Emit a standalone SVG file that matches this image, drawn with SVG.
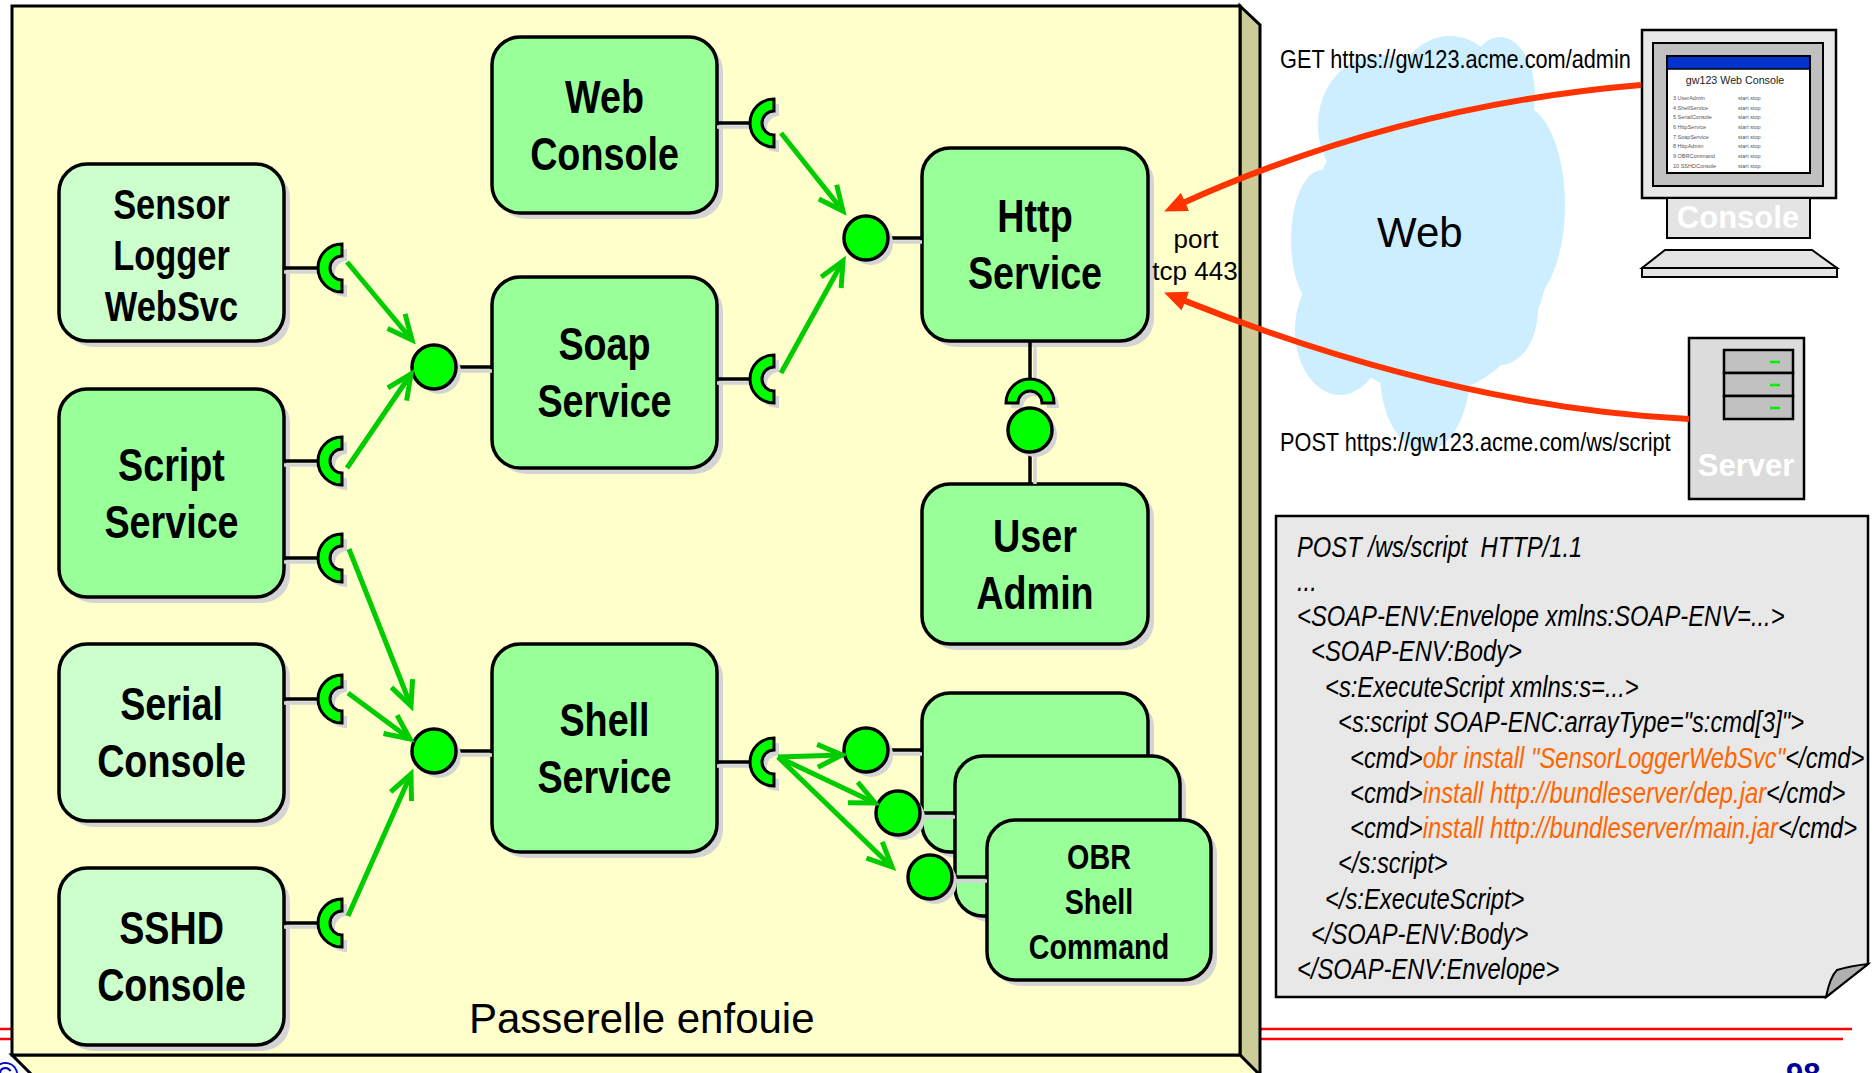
<svg xmlns="http://www.w3.org/2000/svg" width="1875" height="1073" viewBox="0 0 1875 1073">
<style>
.box{stroke:#000;stroke-width:3.5}
.dk{fill:#99ff99}
.lt{fill:#ccffcc}
.sh{fill:#d4d4d4}
.reg{font-family:"Liberation Sans",Arial,sans-serif}
.nar{font-family:"Liberation Sans",Arial,sans-serif}
.lbl{font-family:"Liberation Sans",Arial,sans-serif;font-weight:bold;font-size:46px;text-anchor:middle;fill:#000}
.lbl.s{font-size:42px}
.lbl.xs{font-size:35px}
.stub{stroke:#000;stroke-width:3.5}
.stubsh{stroke:#d4d4d4;stroke-width:3.5}
.sock{fill:#00ff00;stroke:#000;stroke-width:3}
.ball{fill:#00ff00;stroke:#000;stroke-width:3.5}
.arr{stroke:#00cc00;stroke-width:5;fill:none;marker-end:url(#ga)}
.red{stroke:#ff3300;stroke-width:6;fill:none;marker-end:url(#ra)}
.code{font-family:"Liberation Sans",Arial,sans-serif;font-style:italic;font-size:29px;fill:#000}
.or{fill:#ff6600}
.li{font-family:"Liberation Sans",Arial,sans-serif;font-size:5.5px;fill:#555}
.wt{font-family:"Liberation Sans",Arial,sans-serif;font-weight:bold;font-size:31px;fill:#fff;text-anchor:middle}
</style>
<defs>
  <!-- required-interface socket: half ring opening to the right, flat side at x=0 -->
  <path id="sk" d="M0,-24 A24,24 0 0 0 0,24 L0,12 A12,12 0 0 1 0,-12 Z"/>
  <marker id="ga" markerUnits="userSpaceOnUse" viewBox="0 0 40 40" markerWidth="40" markerHeight="40" refX="30" refY="20" orient="auto">
    <path d="M5.5,8.6 L30,20 L5.5,31.4" fill="none" stroke="#00cc00" stroke-width="5"/>
  </marker>
  <marker id="ra" markerUnits="userSpaceOnUse" viewBox="0 0 24 22" markerWidth="24" markerHeight="22" refX="6" refY="11" orient="auto">
    <path d="M0,1 L23,11 L0,21 Z" fill="#ff3300"/>
  </marker>
</defs>

<rect width="1875" height="1073" fill="#fff"/>

<!-- slide template rules -->
<line x1="0" y1="1029" x2="1852" y2="1029" stroke="#ff0000" stroke-width="2.5"/>
<line x1="0" y1="1039" x2="1843" y2="1039" stroke="#ff0000" stroke-width="2.5"/>
<text x="-8" y="1088" class="reg" font-size="36" fill="#0000cc">©</text>
<text x="1786" y="1085" class="reg" font-size="31" font-weight="bold" fill="#000099">98</text>

<!-- gateway container (3D panel) -->
<g id="gateway">
  <polygon points="1240,6 1260,25 1260,1080 1240,1055" fill="#cccc99" stroke="#000" stroke-width="3"/>
  <polygon points="12,1055 1240,1055 1260,1075 32,1075" fill="#ffffcc" stroke="#000" stroke-width="3"/>
  <rect x="12" y="6" width="1228" height="1049" fill="#ffffcc" stroke="#000" stroke-width="3"/>
  <text x="469" y="1033" class="reg" font-size="42" fill="#000">Passerelle enfouie</text>
</g>

<!-- Web cloud -->
<g id="web-cloud" fill="#cceeff">
  <ellipse cx="1428" cy="245" rx="122" ry="150"/>
  <ellipse cx="1380" cy="125" rx="62" ry="70"/>
  <ellipse cx="1450" cy="98" rx="55" ry="62"/>
  <ellipse cx="1500" cy="95" rx="35" ry="58"/>
  <ellipse cx="1520" cy="205" rx="45" ry="100"/>
  <ellipse cx="1500" cy="310" rx="38" ry="55"/>
  <ellipse cx="1340" cy="330" rx="45" ry="65"/>
  <ellipse cx="1425" cy="372" rx="45" ry="79"/>
  <ellipse cx="1322" cy="240" rx="31" ry="70"/>
  <text x="1377" y="247" class="reg" font-size="42" fill="#000">Web</text>
</g>

<!-- nodes (labels are drawn horizontally condensed) -->
<g id="web-console">
  <rect class="sh" x="498" y="43" width="225" height="176" rx="28"/>
  <rect class="box dk" x="492" y="37" width="225" height="176" rx="28"/>
  <text class="lbl" transform="translate(604.5,0) scale(0.82,1)"><tspan x="0" y="113">Web</tspan><tspan x="0" y="170">Console</tspan></text>
  <line class="stubsh" x1="717" y1="127" x2="750" y2="127"/>
  <line class="stub" x1="717" y1="123" x2="750" y2="123"/>
  <use href="#sk" x="779" y="128" fill="#d4d4d4"/>
  <use href="#sk" class="sock" x="774" y="123"/>
</g>

<g id="sensor-logger">
  <rect class="sh" x="65" y="170" width="225" height="177" rx="28"/>
  <rect class="box lt" x="59" y="164" width="225" height="177" rx="28"/>
  <text class="lbl s" transform="translate(171.5,0) scale(0.82,1)"><tspan x="0" y="219">Sensor</tspan><tspan x="0" y="270">Logger</tspan><tspan x="0" y="321">WebSvc</tspan></text>
  <line class="stubsh" x1="284" y1="272" x2="318" y2="272"/>
  <line class="stub" x1="284" y1="268" x2="318" y2="268"/>
  <use href="#sk" x="347" y="273" fill="#d4d4d4"/>
  <use href="#sk" class="sock" x="342" y="268"/>
</g>

<g id="soap-service">
  <rect class="sh" x="498" y="283" width="225" height="191" rx="28"/>
  <rect class="box dk" x="492" y="277" width="225" height="191" rx="28"/>
  <text class="lbl" transform="translate(604.5,0) scale(0.82,1)"><tspan x="0" y="360.5">Soap</tspan><tspan x="0" y="417.5">Service</tspan></text>
  <line class="stubsh" x1="456" y1="371" x2="492" y2="371"/>
  <line class="stub" x1="456" y1="367" x2="492" y2="367"/>
  <circle cx="439" cy="372" r="22" fill="#d4d4d4"/>
  <circle class="ball" cx="434" cy="367" r="22"/>
  <line class="stubsh" x1="717" y1="383" x2="750" y2="383"/>
  <line class="stub" x1="717" y1="379" x2="750" y2="379"/>
  <use href="#sk" x="779" y="384" fill="#d4d4d4"/>
  <use href="#sk" class="sock" x="774" y="379"/>
</g>

<g id="http-service">
  <rect class="sh" x="928" y="154" width="226" height="193" rx="28"/>
  <rect class="box dk" x="922" y="148" width="226" height="193" rx="28"/>
  <text class="lbl" transform="translate(1035,0) scale(0.82,1)"><tspan x="0" y="232.5">Http</tspan><tspan x="0" y="289.5">Service</tspan></text>
  <line class="stubsh" x1="888" y1="242" x2="922" y2="242"/>
  <line class="stub" x1="888" y1="238" x2="922" y2="238"/>
  <circle cx="871" cy="243" r="22" fill="#d4d4d4"/>
  <circle class="ball" cx="866" cy="238" r="22"/>
  <line class="stubsh" x1="1035" y1="346" x2="1035" y2="380"/>
  <line class="stub" x1="1030" y1="341" x2="1030" y2="380"/>
  <use href="#sk" transform="translate(1035,408) rotate(90)" fill="#d4d4d4"/>
  <use href="#sk" class="sock" transform="translate(1030,403) rotate(90)"/>
  <text x="1196" y="248" class="reg" font-size="26" text-anchor="middle" fill="#000">port</text>
  <text x="1195" y="280" class="reg" font-size="26" text-anchor="middle" fill="#000">tcp 443</text>
</g>

<g id="script-service">
  <rect class="sh" x="65" y="395" width="225" height="208" rx="28"/>
  <rect class="box dk" x="59" y="389" width="225" height="208" rx="28"/>
  <text class="lbl" transform="translate(171.5,0) scale(0.82,1)"><tspan x="0" y="481">Script</tspan><tspan x="0" y="538">Service</tspan></text>
  <line class="stubsh" x1="284" y1="465" x2="318" y2="465"/>
  <line class="stub" x1="284" y1="461" x2="318" y2="461"/>
  <use href="#sk" x="347" y="466" fill="#d4d4d4"/>
  <use href="#sk" class="sock" x="342" y="461"/>
  <line class="stubsh" x1="284" y1="562" x2="318" y2="562"/>
  <line class="stub" x1="284" y1="558" x2="318" y2="558"/>
  <use href="#sk" x="347" y="563" fill="#d4d4d4"/>
  <use href="#sk" class="sock" x="342" y="558"/>
</g>

<g id="user-admin">
  <rect class="sh" x="928" y="490" width="226" height="160" rx="28"/>
  <rect class="box dk" x="922" y="484" width="226" height="160" rx="28"/>
  <text class="lbl" transform="translate(1035,0) scale(0.82,1)"><tspan x="0" y="552">User</tspan><tspan x="0" y="609">Admin</tspan></text>
  <line class="stubsh" x1="1035" y1="457" x2="1035" y2="484"/>
  <line class="stub" x1="1030" y1="452" x2="1030" y2="484"/>
  <circle cx="1035" cy="435" r="22" fill="#d4d4d4"/>
  <circle class="ball" cx="1030" cy="430" r="22"/>
</g>

<g id="serial-console">
  <rect class="sh" x="65" y="650" width="225" height="177" rx="28"/>
  <rect class="box lt" x="59" y="644" width="225" height="177" rx="28"/>
  <text class="lbl" transform="translate(171.5,0) scale(0.82,1)"><tspan x="0" y="720.5">Serial</tspan><tspan x="0" y="777.5">Console</tspan></text>
  <line class="stubsh" x1="284" y1="703" x2="318" y2="703"/>
  <line class="stub" x1="284" y1="699" x2="318" y2="699"/>
  <use href="#sk" x="347" y="704" fill="#d4d4d4"/>
  <use href="#sk" class="sock" x="342" y="699"/>
</g>

<g id="shell-service">
  <rect class="sh" x="498" y="650" width="225" height="208" rx="28"/>
  <rect class="box dk" x="492" y="644" width="225" height="208" rx="28"/>
  <text class="lbl" transform="translate(604.5,0) scale(0.82,1)"><tspan x="0" y="736">Shell</tspan><tspan x="0" y="793">Service</tspan></text>
  <line class="stubsh" x1="456" y1="755" x2="492" y2="755"/>
  <line class="stub" x1="456" y1="751" x2="492" y2="751"/>
  <circle cx="439" cy="756" r="22" fill="#d4d4d4"/>
  <circle class="ball" cx="434" cy="751" r="22"/>
  <line class="stubsh" x1="717" y1="766" x2="750" y2="766"/>
  <line class="stub" x1="717" y1="762" x2="750" y2="762"/>
  <use href="#sk" x="779" y="767" fill="#d4d4d4"/>
  <use href="#sk" class="sock" x="774" y="762"/>
</g>

<g id="sshd-console">
  <rect class="sh" x="65" y="874" width="225" height="177" rx="28"/>
  <rect class="box lt" x="59" y="868" width="225" height="177" rx="28"/>
  <text class="lbl" transform="translate(171.5,0) scale(0.82,1)"><tspan x="0" y="944.5">SSHD</tspan><tspan x="0" y="1001.5">Console</tspan></text>
  <line class="stubsh" x1="284" y1="927" x2="318" y2="927"/>
  <line class="stub" x1="284" y1="923" x2="318" y2="923"/>
  <use href="#sk" x="347" y="928" fill="#d4d4d4"/>
  <use href="#sk" class="sock" x="342" y="923"/>
</g>

<g id="shell-command-1">
  <rect class="sh" x="928" y="699" width="226" height="159" rx="28"/>
  <rect class="box dk" x="922" y="693" width="226" height="159" rx="28"/>
  <line class="stubsh" x1="888" y1="754" x2="922" y2="754"/>
  <line class="stub" x1="888" y1="750" x2="922" y2="750"/>
  <circle cx="871" cy="755" r="22" fill="#d4d4d4"/>
  <circle class="ball" cx="866" cy="750" r="22"/>
</g>

<g id="shell-command-2">
  <rect class="sh" x="961" y="762" width="225" height="160" rx="28"/>
  <rect class="box dk" x="955" y="756" width="225" height="160" rx="28"/>
  <line class="stubsh" x1="920" y1="817" x2="955" y2="817"/>
  <line class="stub" x1="920" y1="813" x2="955" y2="813"/>
  <circle cx="903" cy="818" r="22" fill="#d4d4d4"/>
  <circle class="ball" cx="898" cy="813" r="22"/>
</g>

<g id="obr-shell-command">
  <rect class="sh" x="993" y="826" width="224" height="160" rx="28"/>
  <rect class="box dk" x="987" y="820" width="224" height="160" rx="28"/>
  <text class="lbl xs" transform="translate(1099,0) scale(0.82,1)"><tspan x="0" y="869">OBR</tspan><tspan x="0" y="914">Shell</tspan><tspan x="0" y="959">Command</tspan></text>
  <line class="stubsh" x1="952" y1="881" x2="987" y2="881"/>
  <line class="stub" x1="952" y1="877" x2="987" y2="877"/>
  <circle cx="935" cy="882" r="22" fill="#d4d4d4"/>
  <circle class="ball" cx="930" cy="877" r="22"/>
</g>

<!-- remote clients -->
<g id="console-pc">
  <rect x="1642" y="30" width="194" height="168" fill="#e8e8e8" stroke="#000" stroke-width="2.5"/>
  <rect x="1653" y="43" width="170" height="143" fill="#c0c0c0" stroke="#000" stroke-width="2"/>
  <rect x="1667" y="56" width="143" height="117" fill="#fff" stroke="#000" stroke-width="2"/>
  <rect x="1668" y="57" width="141" height="12" fill="#0033cc"/>
  <line x1="1667" y1="69" x2="1810" y2="69" stroke="#000" stroke-width="1.5"/>
  <text x="1735" y="84" class="reg" font-size="10.7" text-anchor="middle" fill="#222">gw123 Web Console</text>
  <g class="li">
    <text x="1673" y="100">3 UserAdmin</text><text x="1738" y="100">start stop</text>
    <text x="1673" y="110">4 ShellService</text><text x="1738" y="110">start stop</text>
    <text x="1673" y="119">5 SerialConsole</text><text x="1738" y="119">start stop</text>
    <text x="1673" y="129">6 HttpService</text><text x="1738" y="129">start stop</text>
    <text x="1673" y="139">7 SoapService</text><text x="1738" y="139">start stop</text>
    <text x="1673" y="148">8 HttpAdmin</text><text x="1738" y="148">start stop</text>
    <text x="1673" y="158">9 OBRCommand</text><text x="1738" y="158">start stop</text>
    <text x="1673" y="168">10 SSHDConsole</text><text x="1738" y="168">start stop</text>
  </g>
  <rect x="1667" y="198" width="143" height="40" fill="#e4e4e4" stroke="#000" stroke-width="2"/>
  <text x="1738" y="228" class="wt">Console</text>
  <polygon points="1665,250 1812,250 1837,268 1642,268" fill="#e4e4e4" stroke="#000" stroke-width="2"/>
  <rect x="1642" y="268" width="195" height="9" fill="#e4e4e4" stroke="#000" stroke-width="2"/>
</g>

<g id="server">
  <rect x="1689" y="338" width="115" height="161" fill="#dcdcdc" stroke="#000" stroke-width="2.5"/>
  <rect x="1724" y="350" width="69" height="23" fill="#c0c0c0" stroke="#000" stroke-width="2.5"/>
  <rect x="1724" y="373" width="69" height="23" fill="#c0c0c0" stroke="#000" stroke-width="2.5"/>
  <rect x="1724" y="396" width="69" height="23" fill="#c0c0c0" stroke="#000" stroke-width="2.5"/>
  <g stroke="#00ee00" stroke-width="2.5">
    <line x1="1770" y1="362" x2="1780" y2="362"/>
    <line x1="1770" y1="385" x2="1780" y2="385"/>
    <line x1="1770" y1="408" x2="1780" y2="408"/>
  </g>
  <text x="1746" y="476" class="wt">Server</text>
</g>

<g id="soap-request">
  <path d="M1276,516 H1868 V964 L1826,997 H1276 Z" fill="#e8e8e8" stroke="#000" stroke-width="2.5"/>
  <path d="M1826,997 Q1830,977 1837,970 Q1850,966 1868,964 Z" fill="#b0b0b0" stroke="#000" stroke-width="2"/>
  <g class="code">
    <text transform="translate(1297,557) scale(0.82,1)">POST /ws/script &#160;HTTP/1.1</text>
    <text transform="translate(1297,591) scale(0.82,1)">...</text>
    <text transform="translate(1297,626) scale(0.82,1)">&lt;SOAP-ENV:Envelope xmlns:SOAP-ENV=...&gt;</text>
    <text transform="translate(1311,661) scale(0.82,1)">&lt;SOAP-ENV:Body&gt;</text>
    <text transform="translate(1325,697) scale(0.82,1)">&lt;s:ExecuteScript xmlns:s=...&gt;</text>
    <text transform="translate(1338,732) scale(0.82,1)">&lt;s:script SOAP-ENC:arrayType="s:cmd[3]"&gt;</text>
    <text transform="translate(1350,768) scale(0.82,1)">&lt;cmd&gt;<tspan class="or">obr install "SensorLoggerWebSvc"</tspan>&lt;/cmd&gt;</text>
    <text transform="translate(1350,803) scale(0.82,1)">&lt;cmd&gt;<tspan class="or">install http://bundleserver/dep.jar</tspan>&lt;/cmd&gt;</text>
    <text transform="translate(1350,838) scale(0.82,1)">&lt;cmd&gt;<tspan class="or">install http://bundleserver/main.jar</tspan>&lt;/cmd&gt;</text>
    <text transform="translate(1338,873) scale(0.82,1)">&lt;/s:script&gt;</text>
    <text transform="translate(1325,909) scale(0.82,1)">&lt;/s:ExecuteScript&gt;</text>
    <text transform="translate(1311,944) scale(0.82,1)">&lt;/SOAP-ENV:Body&gt;</text>
    <text transform="translate(1297,979) scale(0.82,1)">&lt;/SOAP-ENV:Envelope&gt;</text>
  </g>
</g>

<!-- connectors -->
<g id="connectors">
  <line class="arr" x1="347" y1="262" x2="412" y2="340"/>
  <line class="arr" x1="347" y1="468" x2="411" y2="374"/>
  <line class="arr" x1="349" y1="549" x2="411" y2="706"/>
  <line class="arr" x1="348" y1="693" x2="410" y2="739"/>
  <line class="arr" x1="348" y1="916" x2="411" y2="774"/>
  <line class="arr" x1="781" y1="133" x2="843" y2="211"/>
  <line class="arr" x1="781" y1="373" x2="843" y2="261"/>
  <line class="arr" x1="778" y1="757" x2="842" y2="755"/>
  <line class="arr" x1="778" y1="757" x2="875" y2="803"/>
  <line class="arr" x1="778" y1="757" x2="892" y2="867"/>
  <path class="red" d="M1641,85 Q1400,105 1179.6,204.4"/>
  <path class="red" d="M1689,419 Q1450,407 1179.8,298.9"/>
  <text class="nar" transform="translate(1280,68) scale(0.82,1)" font-size="26.5" fill="#000">GET https://gw123.acme.com/admin</text>
  <text class="nar" transform="translate(1280,451) scale(0.82,1)" font-size="26.5" fill="#000">POST https://gw123.acme.com/ws/script</text>
</g>
</svg>
